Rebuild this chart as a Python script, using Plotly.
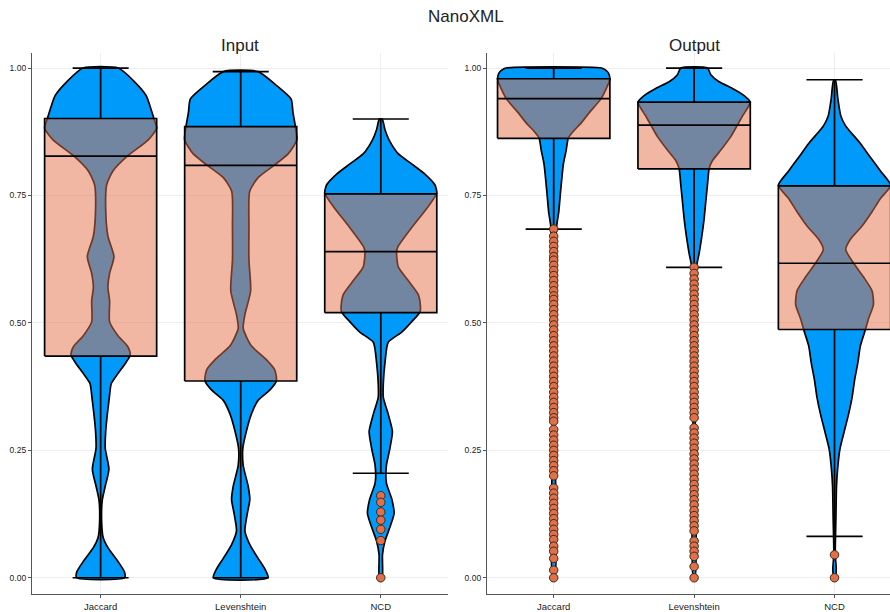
import plotly.graph_objects as go

# ---- data -----------------------------------------------------------------
categories = ["Jaccard", "Levenshtein", "NCD"]
positions = [0.5, 1.5, 2.5]

# box statistics (Input)
in_q1 = [0.435, 0.386, 0.520]
in_med = [0.827, 0.809, 0.640]
in_q3 = [0.901, 0.885, 0.753]
in_lo = [0.0, 0.0, 0.205]
in_hi = [1.0, 0.993, 0.900]

# box statistics (Output)
out_q1 = [0.862, 0.802, 0.487]
out_med = [0.940, 0.888, 0.617]
out_q3 = [0.979, 0.933, 0.769]
out_lo = [0.684, 0.609, 0.081]
out_hi = [1.0, 1.0, 0.977]

# violin density profiles: (value, half-width), ascending in value
in_jaccard_density = [
    (0.0, 0.171), (0.011, 0.171), (0.032, 0.124), (0.059, 0.052), (0.079, 0.018),
    (0.112, 0.007), (0.153, 0.012), (0.18, 0.033), (0.213, 0.059), (0.2535, 0.033),
    (0.287, 0.036), (0.354, 0.062), (0.381, 0.076), (0.401, 0.124), (0.422, 0.18),
    (0.435, 0.209), (0.442, 0.21), (0.455, 0.19), (0.475, 0.124), (0.502, 0.064),
    (0.543, 0.064), (0.570, 0.052), (0.597, 0.064), (0.630, 0.095), (0.670, 0.052),
    (0.724, 0.036), (0.771, 0.043), (0.798, 0.088), (0.827, 0.19), (0.859, 0.34),
    (0.882, 0.40), (0.901, 0.38), (0.946, 0.325), (0.973, 0.242), (1.0, 0.126),
]
in_levenshtein_density = [
    (0.0, 0.195), (0.018, 0.171), (0.038, 0.124), (0.065, 0.065), (0.092, 0.03),
    (0.126, 0.047), (0.153, 0.065), (0.18, 0.053), (0.22, 0.018), (0.2535, 0.015),
    (0.287, 0.04), (0.321, 0.076), (0.348, 0.124), (0.368, 0.207), (0.386, 0.255),
    (0.408, 0.243), (0.428, 0.183), (0.455, 0.076), (0.489, 0.018), (0.516, 0.03),
    (0.563, 0.071), (0.623, 0.059), (0.691, 0.059), (0.758, 0.064), (0.785, 0.124),
    (0.81, 0.243), (0.832, 0.34), (0.859, 0.40), (0.886, 0.39), (0.913, 0.373),
    (0.939, 0.36), (0.966, 0.254), (0.993, 0.124),
]
in_ncd_density = [
    (0.0, 0.01), (0.045, 0.012), (0.072, 0.03), (0.099, 0.065), (0.126, 0.095),
    (0.153, 0.08), (0.186, 0.04), (0.22, 0.04), (0.2535, 0.065), (0.287, 0.083),
    (0.321, 0.053), (0.354, 0.018), (0.381, 0.018), (0.422, 0.03), (0.462, 0.053),
    (0.482, 0.15), (0.502, 0.22), (0.521, 0.28), (0.533, 0.283), (0.556, 0.267),
    (0.583, 0.196), (0.61, 0.125), (0.64, 0.113), (0.65, 0.124), (0.691, 0.232),
    (0.724, 0.327), (0.7545, 0.40), (0.771, 0.386), (0.792, 0.315), (0.812, 0.22),
    (0.832, 0.124), (0.859, 0.059), (0.879, 0.03), (0.9, 0.01),
]
out_jaccard_density = [
    (0.0, 0.008), (0.3, 0.008), (0.6, 0.012), (0.69, 0.021), (0.718, 0.036),
    (0.758, 0.049), (0.812, 0.069), (0.839, 0.089), (0.863, 0.104), (0.875, 0.137),
    (0.892, 0.195), (0.913, 0.255), (0.941, 0.34), (0.973, 0.395), (0.98, 0.40),
    (0.99, 0.39), (0.996, 0.37), (1.0, 0.34),
]
out_levenshtein_density = [
    (0.0, 0.006), (0.3, 0.008), (0.55, 0.01), (0.613, 0.019), (0.637, 0.036),
    (0.67, 0.055), (0.704, 0.071), (0.738, 0.083), (0.771, 0.095), (0.803, 0.107),
    (0.818, 0.13), (0.839, 0.19), (0.865, 0.26), (0.889, 0.31), (0.906, 0.345),
    (0.933, 0.40), (0.946, 0.356), (0.96, 0.273), (0.973, 0.178), (0.987, 0.119),
    (1.0, 0.095),
]
out_ncd_density = [
    (0.0, 0.006), (0.018, 0.012), (0.045, 0.005), (0.119, 0.01), (0.18, 0.014),
    (0.22, 0.024), (0.2535, 0.039), (0.287, 0.069), (0.321, 0.10), (0.354, 0.125),
    (0.388, 0.143), (0.422, 0.166), (0.455, 0.184), (0.487, 0.22), (0.509, 0.243),
    (0.536, 0.277), (0.563, 0.267), (0.59, 0.207), (0.617, 0.136), (0.644, 0.08),
    (0.664, 0.113), (0.69, 0.196), (0.718, 0.267), (0.744, 0.327), (0.77, 0.40),
    (0.798, 0.327), (0.825, 0.255), (0.852, 0.184), (0.886, 0.08), (0.906, 0.045),
    (0.939, 0.024), (0.976, 0.007),
]

# outliers
in_outliers = [[], [], [0.161, 0.148, 0.129, 0.113, 0.095, 0.073, 0.0]]
out_jaccard_outliers = [
    0.684, 0.670, 0.660, 0.650, 0.640, 0.630, 0.623, 0.613, 0.603, 0.593, 0.583,
    0.573, 0.563, 0.553, 0.546, 0.536, 0.526, 0.516, 0.506, 0.496, 0.486, 0.475,
    0.465, 0.455, 0.445, 0.435, 0.425, 0.415, 0.405, 0.395, 0.385, 0.375, 0.364,
    0.354, 0.344, 0.334, 0.324, 0.314, 0.307, 0.291, 0.280, 0.270, 0.260, 0.250,
    0.240, 0.230, 0.220, 0.210, 0.200, 0.176, 0.166, 0.156, 0.146, 0.136, 0.126,
    0.116, 0.106, 0.095, 0.085, 0.075, 0.062, 0.052, 0.038, 0.015, 0.0,
]
out_levenshtein_outliers = [
    0.609, 0.597, 0.586, 0.576, 0.566, 0.556, 0.546, 0.536, 0.526, 0.516, 0.506,
    0.496, 0.486, 0.475, 0.465, 0.455, 0.445, 0.435, 0.425, 0.415, 0.405, 0.395,
    0.385, 0.375, 0.364, 0.354, 0.344, 0.334, 0.324, 0.314, 0.294, 0.284, 0.274,
    0.264, 0.254, 0.243, 0.233, 0.223, 0.213, 0.203, 0.193, 0.183, 0.173, 0.163,
    0.153, 0.143, 0.132, 0.122, 0.112, 0.102, 0.092, 0.072, 0.062, 0.052, 0.042,
    0.022, 0.0,
]
out_ncd_outliers = [0.045, 0.0]
out_outliers = [out_jaccard_outliers, out_levenshtein_outliers, out_ncd_outliers]

yticks = [0.0, 0.25, 0.5, 0.75, 1.0]

# ---- styling --------------------------------------------------------------
VIOLIN_BLUE = "#009AFA"
BOX_FILL = "rgba(227,111,71,0.5)"
POINT_ORANGE = "#E26F46"
BOX_WIDTH = 0.8
CAP_WIDTH = 0.4
LINE_W = 1.7
FONT = "Liberation Sans, Arial, sans-serif"

fig = go.Figure()


def add_panel(xa, ya, densities, q1, med, q3, lo, hi, outliers):
    # violins
    for c, prof in zip(positions, densities):
        vals = [p[0] for p in prof]
        hws = [p[1] for p in prof]
        xs = [c + w for w in hws] + [c - w for w in reversed(hws)] + [c + hws[0]]
        ys = vals + list(reversed(vals)) + [vals[0]]
        fig.add_trace(go.Scatter(
            x=xs, y=ys, xaxis=xa, yaxis=ya, mode="lines", fill="toself",
            fillcolor=VIOLIN_BLUE,
            line=dict(color="black", width=LINE_W, shape="spline", smoothing=0.6),
            hoverinfo="skip", showlegend=False))
    # boxes
    half = BOX_WIDTH / 2
    for c, a, b in zip(positions, q1, q3):
        fig.add_trace(go.Scatter(
            x=[c - half, c + half, c + half, c - half, c - half],
            y=[a, a, b, b, a], xaxis=xa, yaxis=ya, mode="lines", fill="toself",
            fillcolor=BOX_FILL, line=dict(color="black", width=LINE_W),
            hoverinfo="skip", showlegend=False))
    # medians, whiskers and caps
    lx, ly = [], []
    cap = CAP_WIDTH / 2
    for c, a, m, b, l, h in zip(positions, q1, med, q3, lo, hi):
        lx += [c - half, c + half, None]
        ly += [m, m, None]
        lx += [c, c, None, c, c, None]
        ly += [b, h, None, a, l, None]
        lx += [c - cap, c + cap, None, c - cap, c + cap, None]
        ly += [h, h, None, l, l, None]
    fig.add_trace(go.Scatter(
        x=lx, y=ly, xaxis=xa, yaxis=ya, mode="lines",
        line=dict(color="black", width=LINE_W), hoverinfo="skip", showlegend=False))
    # outliers
    ox, oy = [], []
    for c, pts in zip(positions, outliers):
        ox += [c] * len(pts)
        oy += pts
    fig.add_trace(go.Scatter(
        x=ox, y=oy, xaxis=xa, yaxis=ya, mode="markers",
        marker=dict(color=POINT_ORANGE, size=8.5, line=dict(color="#3a2a22", width=1)),
        hoverinfo="skip", showlegend=False))


add_panel("x", "y",
          [in_jaccard_density, in_levenshtein_density, in_ncd_density],
          in_q1, in_med, in_q3, in_lo, in_hi, in_outliers)
add_panel("x2", "y2",
          [out_jaccard_density, out_levenshtein_density, out_ncd_density],
          out_q1, out_med, out_q3, out_lo, out_hi, out_outliers)

W, H = 890, 612
axis_common = dict(
    showline=True, linecolor="#555555", linewidth=1.3,
    ticks="outside", ticklen=3, tickcolor="#555555", tickwidth=1,
    showgrid=True, gridcolor="#eeeeee", gridwidth=1, zeroline=False,
)
xaxis_common = dict(axis_common, tickvals=positions, ticktext=categories,
                    tickfont=dict(family=FONT, size=9.5, color="#222"), fixedrange=True)
yaxis_common = dict(axis_common, tickvals=yticks, tickformat=".2f",
                    range=[-0.032, 1.030], domain=[15 / H, 559 / H],
                    tickfont=dict(family=FONT, size=8.5, color="#222"), fixedrange=True)

fig.update_layout(
    width=W, height=H,
    margin=dict(l=0, r=0, t=0, b=0),
    paper_bgcolor="white", plot_bgcolor="white",
    xaxis=dict(xaxis_common, domain=[32 / W, 448 / W], range=[0.01, 2.98], anchor="y"),
    yaxis=dict(yaxis_common, anchor="x"),
    xaxis2=dict(xaxis_common, domain=[487 / W, 1.0], range=[0.025, 2.895], anchor="y2"),
    yaxis2=dict(yaxis_common, anchor="x2"),
    annotations=[
        dict(text="NanoXML", x=466 / W, y=1 - 17 / H, xref="paper", yref="paper",
             showarrow=False, xanchor="center", yanchor="middle",
             font=dict(family=FONT, size=17, color="#222")),
        dict(text="Input", x=240 / W, y=1 - 46 / H, xref="paper", yref="paper",
             showarrow=False, xanchor="center", yanchor="middle",
             font=dict(family=FONT, size=17, color="#222")),
        dict(text="Output", x=694 / W, y=1 - 46 / H, xref="paper", yref="paper",
             showarrow=False, xanchor="center", yanchor="middle",
             font=dict(family=FONT, size=17, color="#222")),
    ],
)

fig.write_html("out.html")
